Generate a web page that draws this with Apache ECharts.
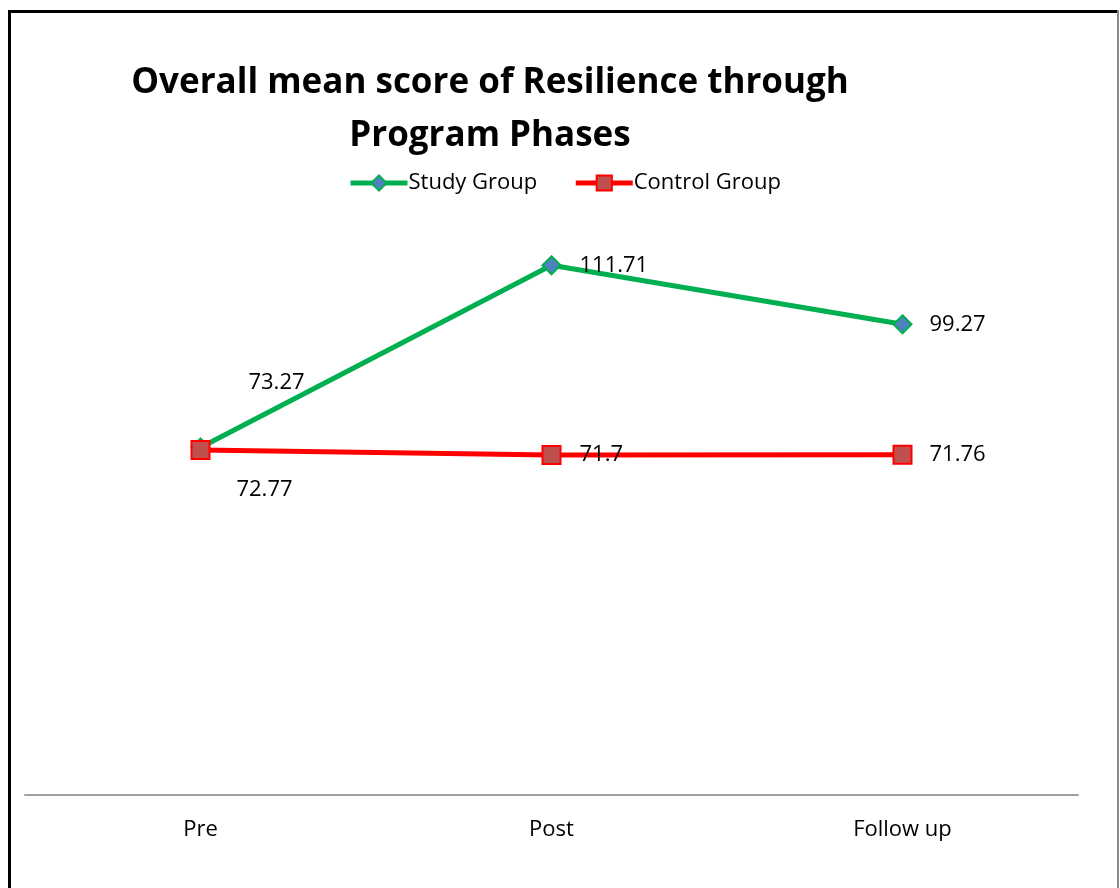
<!DOCTYPE html>
<html><head><meta charset="utf-8">
<script src="https://cdn.jsdelivr.net/npm/echarts@6/dist/echarts.min.js"></script>
<style>html,body{margin:0;padding:0;background:#fff}#c{width:1120px;height:888px}</style>
</head><body><div id="c"></div>
<script>
const categories = ['Pre', 'Post', 'Follow up'];
const studyValues = [73.27, 111.71, 99.27];
const controlValues = [72.77, 71.7, 71.76];
const seriesNames = ['Study Group', 'Control Group'];

const FONT = 'Open Sans';
const chart = echarts.init(document.getElementById('c'));
const studyLabels = [
  {position: 'inside', offset: [76, -65]},
  {position: 'right', distance: 18},
  {position: 'right', distance: 17}
];
const controlLabels = [
  {position: 'inside', offset: [64, 40]},
  {position: 'right', distance: 18},
  {position: 'right', distance: 17}
];
chart.setOption({
  animation: false,
  backgroundColor: '#fff',
  graphic: [
    {type: 'line', shape: {x1: 9.5, y1: 11.5, x2: 1118, y2: 11.5}, style: {stroke: '#000', lineWidth: 3}, z: 100},
    {type: 'line', shape: {x1: 9.5, y1: 10, x2: 9.5, y2: 888}, style: {stroke: '#000', lineWidth: 3}, z: 100},
    {type: 'line', shape: {x1: 1118, y1: 10, x2: 1118, y2: 888}, style: {stroke: '#888', lineWidth: 2}, z: 101}
  ],
  title: {
    text: 'Overall mean score of Resilience through\nProgram Phases',
    left: 485, top: 52, textAlign: 'center',
    textStyle: {fontFamily: FONT, fontWeight: 'bold', fontSize: 35, lineHeight: 53, color: '#000'}
  },
  legend: {
    top: 167, left: 343, itemWidth: 57, itemHeight: 19, itemGap: 36,
    textStyle: {fontFamily: FONT, fontSize: 22, color: '#000', padding: [0,0,0,-4]},
    lineStyle: {width: 5},
    data: seriesNames
  },
  grid: {left: 25, right: 42, top: 226, bottom: 93},
  xAxis: {
    type: 'category', data: categories, boundaryGap: true,
    axisLine: {lineStyle: {color: '#a0a0a0', width: 2}},
    axisTick: {show: false},
    axisLabel: {fontFamily: FONT, fontSize: 22, color: '#000', margin: 24}
  },
  yAxis: {type: 'value', min: 0, max: 120, show: false, splitLine: {show: false}},
  series: [
    {
      name: seriesNames[0], type: 'line', data: studyValues.map((v, i) => ({value: v, label: studyLabels[i]})),
      symbol: 'diamond', symbolSize: 18,
      lineStyle: {color: '#00B050', width: 5},
      itemStyle: {color: '#4F81BD', borderColor: '#00B050', borderWidth: 2},
      label: {show: true, fontFamily: FONT, fontSize: 22, color: '#000'}
    },
    {
      name: seriesNames[1], type: 'line', data: controlValues.map((v, i) => ({value: v, label: controlLabels[i]})),
      symbol: 'rect', symbolSize: 18,
      lineStyle: {color: '#FF0000', width: 5},
      itemStyle: {color: '#C0504D', borderColor: '#FF0000', borderWidth: 2},
      label: {show: true, fontFamily: FONT, fontSize: 22, color: '#000'}
    }
  ]
});
</script></body></html>
